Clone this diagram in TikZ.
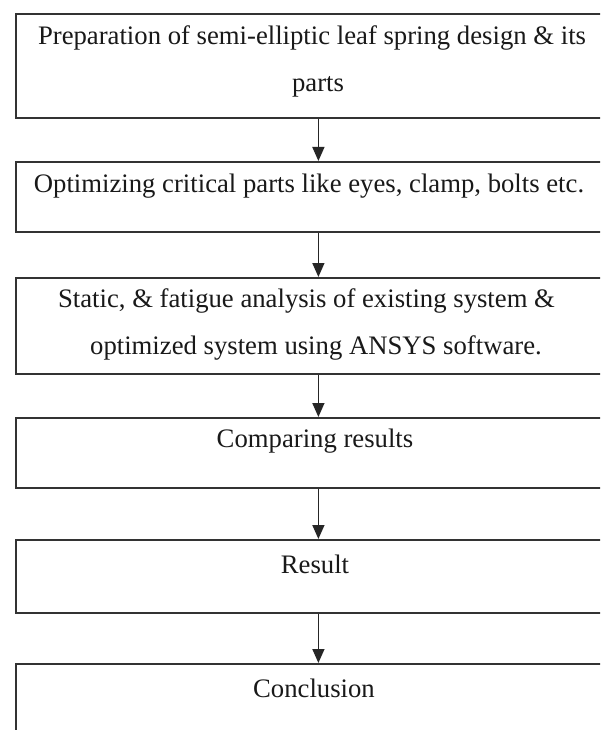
\documentclass[tikz,border=0pt]{standalone}
\usepackage{fontspec}
\setmainfont{Liberation Serif}
\usetikzlibrary{arrows.meta}
\begin{document}
\begin{tikzpicture}[x=1pt,y=-1pt,
  box/.style={draw=black!80, line width=1.8pt, minimum width=605pt, anchor=north west, inner sep=0pt},
  txt/.style={anchor=base, font=\fontsize{26.7}{26.7}\selectfont, inner sep=0pt, text=black!90},
  conn/.style={draw=black!85, line width=1.5pt, -{Triangle[width=12pt,length=14pt]}}]
\useasboundingbox (0,0) rectangle (600,730);
\clip (0,0) rectangle (600,730);
\fill[white] (0,0) rectangle (600,730);
\node[box, minimum height=104pt] (b1) at (15,13) {};
\node[box, minimum height=70pt] (b2) at (15,161) {};
\node[box, minimum height=96pt] (b3) at (15,277) {};
\node[box, minimum height=70pt] (b4) at (15,417) {};
\node[box, minimum height=73pt] (b5) at (15,539) {};
\node[box, minimum height=100pt] (b6) at (15,663) {};
\node[txt] (t1a) at (312,45) {Preparation of semi-elliptic leaf spring design \& its};
\node[txt] (t1b) at (318,92) {parts};
\node[txt] (t2) at (309,193) {Optimizing critical parts like eyes, clamp, bolts etc.};
\node[txt] (t3a) at (306.5,307) {Static, \& fatigue analysis of existing system \&};
\node[txt] (t3b) at (316,354) {optimized system using ANSYS software.};
\node[txt] (t4) at (315,447) {Comparing results};
\node[txt] (t5) at (315,573) {Result};
\node[txt] (t6) at (314,697) {Conclusion};
\draw[conn] (b1.south) -- (b2.north);
\draw[conn] (b2.south) -- (b3.north);
\draw[conn] (b3.south) -- (b4.north);
\draw[conn] (b4.south) -- (b5.north);
\draw[conn] (b5.south) -- (b6.north);
\end{tikzpicture}
\end{document}
